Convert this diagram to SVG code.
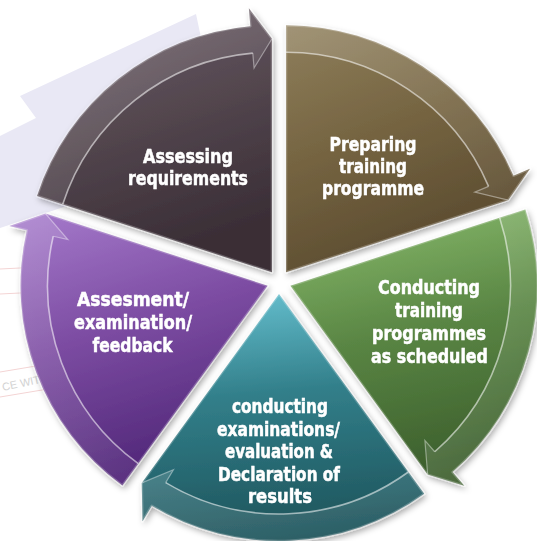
<svg xmlns="http://www.w3.org/2000/svg" width="537" height="541" viewBox="0 0 537 541">
<style>
.lbl{font-family:"Liberation Sans Narrow","DejaVu Sans Condensed","Liberation Sans",sans-serif;font-weight:bold;font-size:20px;fill:#ffffff;stroke:#ffffff;stroke-width:0.5;text-anchor:middle}
.body{stroke:#ffffff;stroke-opacity:0.22;stroke-width:2.5;stroke-linejoin:round}
.band{fill:url(#gBand);stroke:none}
.hl{fill:none;stroke:#ffffff;stroke-opacity:0.55;stroke-width:1.6}
.wing{fill:none;stroke:#ffffff;stroke-opacity:0.4;stroke-width:1.2}
.wm{font-family:"Liberation Sans",sans-serif;font-size:11px;fill:#d2d2d2}
</style>
<defs>
<filter id="sh" x="-10%" y="-10%" width="120%" height="120%">
<feDropShadow dx="2" dy="3" stdDeviation="3" flood-color="#000" flood-opacity="0.35"/>
</filter>
<linearGradient id="gDark" x1="0" y1="0" x2="0.3" y2="1"><stop offset="0" stop-color="#6d606a"/><stop offset="0.5" stop-color="#54474f"/><stop offset="1" stop-color="#3a2e36"/></linearGradient>
<linearGradient id="gBrown" x1="0" y1="0" x2="0.4" y2="1"><stop offset="0" stop-color="#8f7f5c"/><stop offset="0.5" stop-color="#756441"/><stop offset="1" stop-color="#5a4a2f"/></linearGradient>
<linearGradient id="gGreen" x1="0.3" y1="0" x2="0.5" y2="1"><stop offset="0" stop-color="#86b86a"/><stop offset="0.45" stop-color="#5a8644"/><stop offset="1" stop-color="#3a5c2b"/></linearGradient>
<linearGradient id="gTeal" x1="0.4" y1="0" x2="0.5" y2="1"><stop offset="0" stop-color="#63bccb"/><stop offset="0.4" stop-color="#327f8a"/><stop offset="1" stop-color="#1d5259"/></linearGradient>
<linearGradient id="gPurple" x1="0" y1="0" x2="0.3" y2="1"><stop offset="0" stop-color="#a67bcc"/><stop offset="0.5" stop-color="#7c4ca2"/><stop offset="1" stop-color="#52287a"/></linearGradient>
<linearGradient id="gBand" x1="0" y1="0" x2="1" y2="1"><stop offset="0" stop-color="#ffffff" stop-opacity="0.16"/><stop offset="1" stop-color="#ffffff" stop-opacity="0.05"/></linearGradient>
</defs>
<rect width="537" height="541" fill="#ffffff"/>
<g id="background">
<polygon points="20,96 196,14 210,80 70,205 0,228 0,136 36,118" fill="#e9e8f5"/>
<line x1="0" y1="269" x2="60" y2="266" stroke="#f4d4d4" stroke-width="1"/>
<line x1="0" y1="294" x2="60" y2="291" stroke="#f4d4d4" stroke-width="1"/>
<line x1="0" y1="372" x2="60" y2="362" stroke="#f4d4d4" stroke-width="1"/>
<line x1="0" y1="397" x2="60" y2="387" stroke="#f4d4d4" stroke-width="1"/>
<text class="wm" x="3" y="391" transform="rotate(-12 3 391)">CE WIT</text>
</g>
<g id="node-assessing" filter="url(#sh)">
<path class="body" fill="url(#gDark)" d="M 271.95 272.29 L 37.04 195.96 A 247 247 0 0 1 250.42 26.23 L 248.85 8.30 L 271.95 38.79 Z"/>
<text class="lbl" x="188" y="163" textLength="90" lengthAdjust="spacingAndGlyphs">Assessing</text>
<text class="lbl" x="188" y="185" textLength="120" lengthAdjust="spacingAndGlyphs">requirements</text>
</g>
<g id="node-preparing" filter="url(#sh)">
<path class="body" fill="url(#gBrown)" d="M 286.05 272.29 L 286.05 25.29 A 247 247 0 0 1 513.41 175.78 L 529.98 168.75 L 508.12 200.13 Z"/>
<text class="lbl" x="373" y="150.5" textLength="87" lengthAdjust="spacingAndGlyphs">Preparing</text>
<text class="lbl" x="373" y="172.5" textLength="68" lengthAdjust="spacingAndGlyphs">training</text>
<text class="lbl" x="373" y="194.5" textLength="102" lengthAdjust="spacingAndGlyphs">programme</text>
</g>
<g id="node-conducting-training" filter="url(#sh)">
<path class="body" fill="url(#gGreen)" d="M 290.41 285.71 L 525.32 209.38 A 247 247 0 0 1 452.46 472.12 L 464.27 485.71 L 427.66 474.61 Z"/>
<text class="lbl" x="429" y="294" textLength="102" lengthAdjust="spacingAndGlyphs">Conducting</text>
<text class="lbl" x="429" y="317" textLength="68" lengthAdjust="spacingAndGlyphs">training</text>
<text class="lbl" x="429" y="340" textLength="114" lengthAdjust="spacingAndGlyphs">programmes</text>
<text class="lbl" x="429.5" y="363" textLength="117" lengthAdjust="spacingAndGlyphs">as scheduled</text>
</g>
<g id="node-examinations" filter="url(#sh)">
<path class="body" fill="url(#gTeal)" d="M 279 294 L 424.18 493.83 A 247 247 0 0 1 151.79 505.72 L 142.51 521.15 L 141.75 482.90 Z"/>
<text class="lbl" x="280" y="413" textLength="96" lengthAdjust="spacingAndGlyphs">conducting</text>
<text class="lbl" x="278.5" y="435.5" textLength="123" lengthAdjust="spacingAndGlyphs">examinations/</text>
<text class="lbl" x="279" y="458" textLength="108" lengthAdjust="spacingAndGlyphs">evaluation &amp;</text>
<text class="lbl" x="279" y="480.5" textLength="122" lengthAdjust="spacingAndGlyphs">Declaration of</text>
<text class="lbl" x="280" y="503" textLength="64" lengthAdjust="spacingAndGlyphs">results</text>
</g>
<g id="node-feedback" filter="url(#sh)">
<path class="body" fill="url(#gPurple)" d="M 267.59 285.71 L 122.41 485.54 A 247 247 0 0 1 26.92 230.15 L 9.38 226.10 L 45.52 213.55 Z"/>
<text class="lbl" x="133" y="306" textLength="112" lengthAdjust="spacingAndGlyphs">Assesment/</text>
<text class="lbl" x="133" y="329" textLength="118" lengthAdjust="spacingAndGlyphs">examination/</text>
<text class="lbl" x="132.5" y="352" textLength="80" lengthAdjust="spacingAndGlyphs">feedback</text>
</g>
<g id="connectors">
<g id="arrow-assessing-preparing">
<path class="band" d="M 37.04 195.96 A 247 247 0 0 1 250.42 26.23 L 248.85 8.30 L 271.95 38.79 L 254.08 68.07 L 252.78 53.13 A 220 220 0 0 0 62.72 204.31 Z"/>
<path class="hl" d="M 62.72 204.31 A 220 220 0 0 1 252.78 53.13"/>
<path class="wing" d="M 252.78 53.13 L 254.08 68.07 L 271.95 38.79"/>
</g>
<g id="arrow-preparing-conducting">
<path class="band" d="M 286.05 25.29 A 247 247 0 0 1 513.41 175.78 L 529.98 168.75 L 508.12 200.13 L 474.75 192.19 L 488.56 186.33 A 220 220 0 0 0 286.05 52.29 Z"/>
<path class="hl" d="M 286.05 52.29 A 220 220 0 0 1 488.56 186.33"/>
<path class="wing" d="M 488.56 186.33 L 474.75 192.19 L 508.12 200.13"/>
</g>
<g id="arrow-conducting-examinations">
<path class="band" d="M 525.32 209.38 A 247 247 0 0 1 452.46 472.12 L 464.27 485.71 L 427.66 474.61 L 424.90 440.43 L 434.74 451.75 A 220 220 0 0 0 499.64 217.73 Z"/>
<path class="hl" d="M 499.64 217.73 A 220 220 0 0 1 434.74 451.75"/>
<path class="wing" d="M 434.74 451.75 L 424.90 440.43 L 427.66 474.61"/>
</g>
<g id="arrow-examinations-feedback">
<path class="band" d="M 424.18 493.83 A 247 247 0 0 1 151.79 505.72 L 142.51 521.15 L 141.75 482.90 L 173.42 469.72 L 165.69 482.58 A 220 220 0 0 0 408.31 471.98 Z"/>
<path class="hl" d="M 408.31 471.98 A 220 220 0 0 1 165.69 482.58"/>
<path class="wing" d="M 165.69 482.58 L 173.42 469.72 L 141.75 482.90"/>
</g>
<g id="arrow-feedback-assessing">
<path class="band" d="M 122.41 485.54 A 247 247 0 0 1 26.92 230.15 L 9.38 226.10 L 45.52 213.55 L 67.84 239.60 L 53.23 236.22 A 220 220 0 0 0 138.28 463.69 Z"/>
<path class="hl" d="M 138.28 463.69 A 220 220 0 0 1 53.23 236.22"/>
<path class="wing" d="M 53.23 236.22 L 67.84 239.60 L 45.52 213.55"/>
</g>
</g>
</svg>
